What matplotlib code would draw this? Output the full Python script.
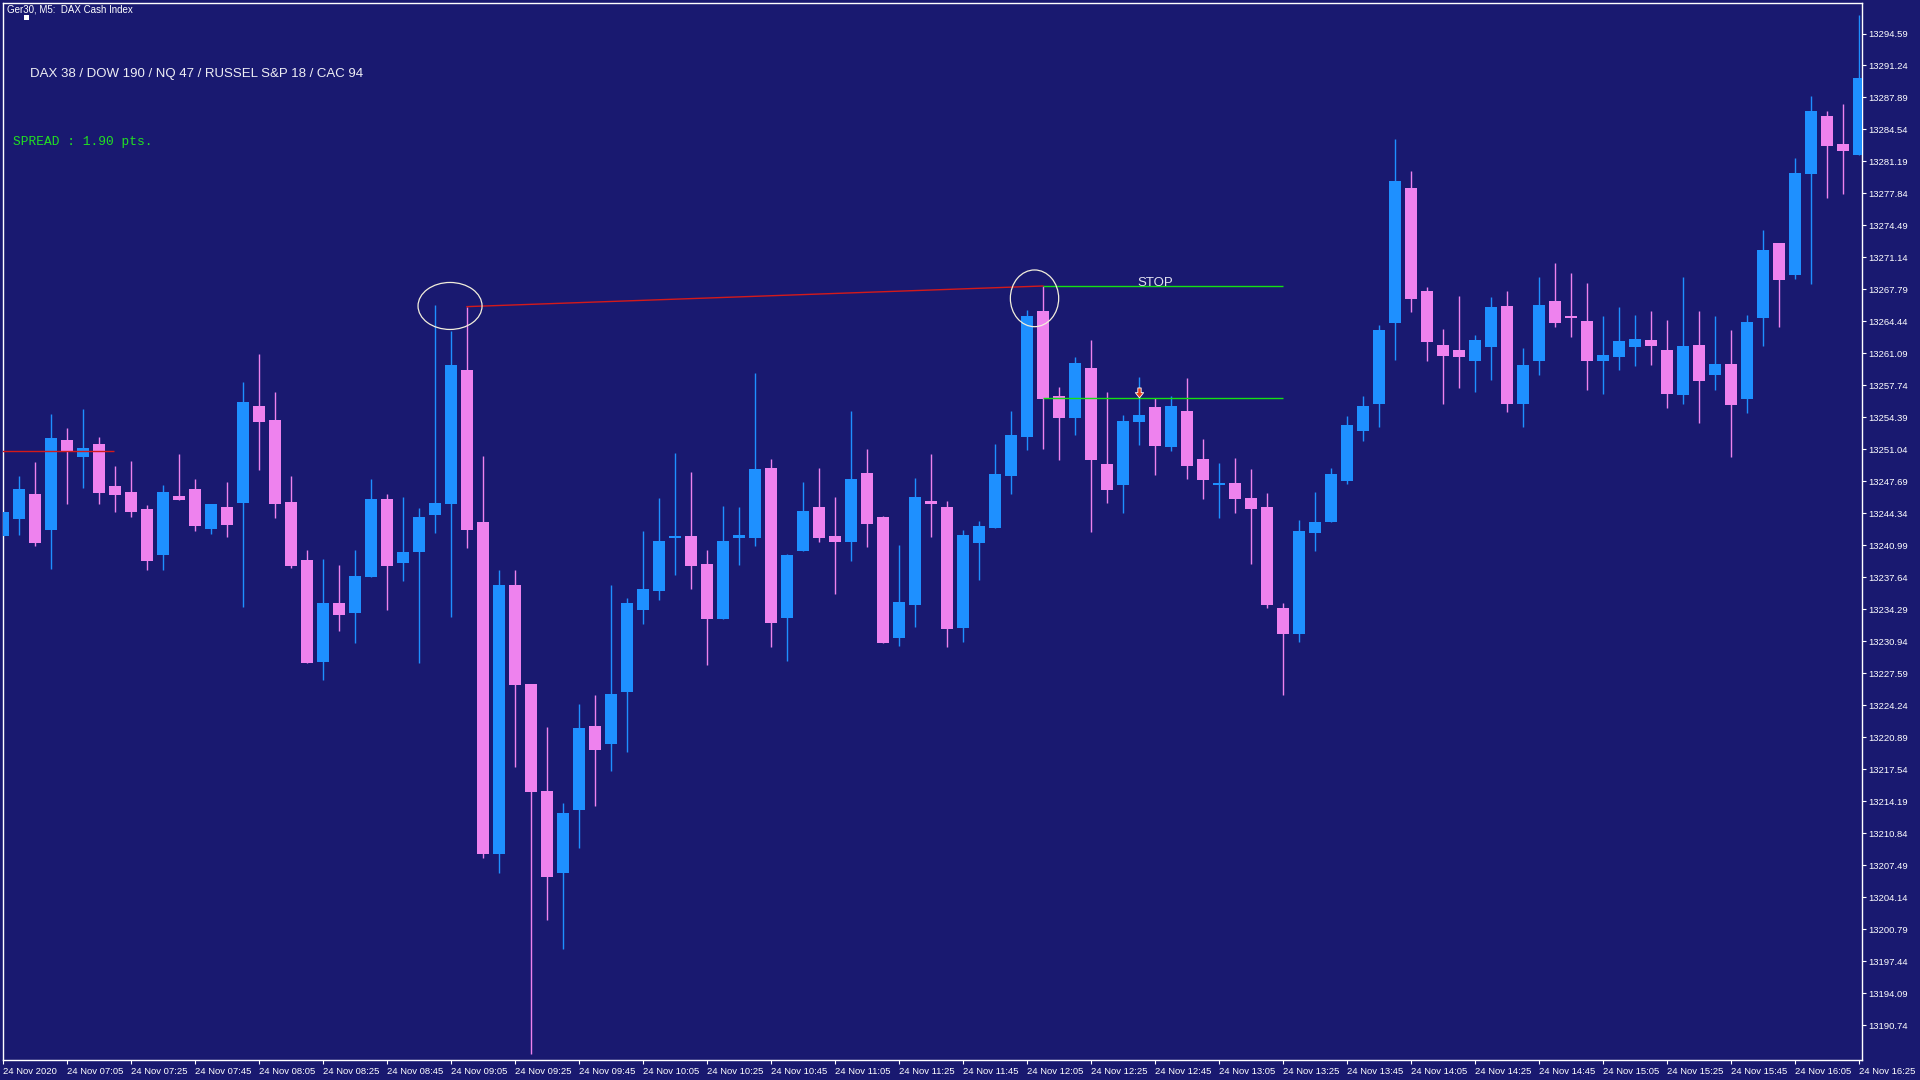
import matplotlib
matplotlib.use("Agg")
import matplotlib.pyplot as plt
from matplotlib.patches import Ellipse, Rectangle
from matplotlib.path import Path

# ---------------- data (5-minute candles, 24 Nov 2020 06:45 .. 16:25) ----------------
opens = [13241.98, 13243.76, 13246.37, 13242.60, 13252.03, 13250.25, 13251.61, 13247.21, 13246.58, 13244.80,
         13239.99, 13246.16, 13246.90, 13242.71, 13245.01, 13245.43, 13255.59, 13254.12, 13245.54, 13239.46,
         13228.78, 13235.00, 13233.96, 13237.71, 13245.89, 13239.17, 13240.31, 13244.22, 13245.37, 13259.38,
         13243.39, 13208.65, 13236.88, 13226.51, 13215.31, 13206.72, 13213.28, 13222.09, 13220.21, 13225.68,
         13234.27, 13236.25, 13241.77, 13241.98, 13239.04, 13233.29, 13241.77, 13241.77, 13249.10, 13233.39,
         13240.41, 13245.01, 13241.98, 13241.35, 13248.57, 13243.97, 13231.30, 13234.75, 13245.64, 13245.01,
         13232.34, 13241.24, 13242.81, 13248.25, 13252.34, 13265.53, 13256.63, 13254.33, 13259.56, 13249.51,
         13247.31, 13253.91, 13255.48, 13251.29, 13255.06, 13250.03, 13247.31, 13247.52, 13245.95, 13245.01,
         13234.43, 13231.71, 13242.28, 13243.47, 13247.73, 13252.97, 13255.80, 13264.28, 13278.41, 13267.63,
         13261.97, 13261.45, 13260.30, 13261.76, 13266.06, 13255.80, 13260.30, 13266.58, 13265.01, 13264.49,
         13260.30, 13260.72, 13261.76, 13262.50, 13261.45, 13256.74, 13261.98, 13258.84, 13259.99, 13256.32,
         13264.80, 13272.66, 13269.31, 13279.88, 13285.96, 13283.02, 13281.87]
highs = [13244.49, 13248.26, 13249.73, 13254.75, 13253.29, 13255.27, 13252.34, 13249.31, 13249.83, 13245.22,
         13247.32, 13250.56, 13247.95, 13245.33, 13247.63, 13258.10, 13261.03, 13257.05, 13248.26, 13240.51,
         13239.57, 13238.96, 13240.52, 13247.97, 13246.41, 13246.10, 13244.95, 13266.20, 13263.44, 13265.99,
         13250.37, 13238.44, 13238.44, 13226.51, 13221.98, 13214.01, 13224.43, 13225.37, 13236.88, 13235.52,
         13242.50, 13245.99, 13250.67, 13248.68, 13240.51, 13245.12, 13245.01, 13259.04, 13250.04, 13240.09,
         13247.63, 13249.10, 13246.06, 13255.07, 13251.09, 13244.07, 13241.03, 13248.05, 13250.56, 13245.64,
         13242.60, 13243.55, 13251.60, 13255.06, 13265.63, 13268.15, 13257.57, 13260.71, 13262.49, 13257.05,
         13254.64, 13258.62, 13256.42, 13256.63, 13258.51, 13252.13, 13249.61, 13250.14, 13248.99, 13246.47,
         13234.95, 13243.64, 13246.58, 13249.09, 13254.54, 13256.63, 13264.07, 13283.54, 13280.19, 13268.05,
         13263.65, 13267.10, 13263.02, 13267.00, 13267.63, 13261.66, 13269.09, 13270.56, 13269.51, 13268.47,
         13265.01, 13265.95, 13265.11, 13265.54, 13264.59, 13269.10, 13265.54, 13265.01, 13263.55, 13265.12,
         13274.02, 13272.66, 13281.56, 13288.05, 13286.48, 13287.21, 13296.56]
lows = [13241.98, 13242.08, 13240.93, 13238.52, 13245.33, 13247.00, 13245.33, 13244.49, 13243.97, 13238.42,
        13238.42, 13245.75, 13242.50, 13242.19, 13241.87, 13234.54, 13248.89, 13243.86, 13238.63, 13228.68,
        13226.90, 13232.03, 13230.78, 13237.71, 13234.27, 13237.29, 13228.70, 13242.29, 13233.44, 13240.73,
        13208.28, 13206.72, 13217.76, 13187.76, 13201.72, 13198.70, 13209.27, 13213.70, 13217.35, 13219.32,
        13232.76, 13235.31, 13237.89, 13236.43, 13228.47, 13233.29, 13238.94, 13240.93, 13230.35, 13228.89,
        13240.41, 13241.35, 13235.90, 13239.36, 13240.82, 13230.77, 13230.46, 13232.45, 13241.87, 13230.35,
        13230.88, 13237.37, 13242.81, 13246.37, 13250.97, 13251.08, 13249.93, 13252.55, 13242.39, 13245.42,
        13244.38, 13251.50, 13248.36, 13250.87, 13247.94, 13245.84, 13243.85, 13244.38, 13239.04, 13234.43,
        13225.32, 13230.87, 13240.40, 13243.47, 13247.42, 13251.92, 13253.39, 13260.40, 13265.43, 13260.30,
        13255.80, 13257.47, 13257.05, 13258.31, 13254.96, 13253.39, 13258.83, 13263.86, 13262.81, 13257.26,
        13256.84, 13259.36, 13259.77, 13259.88, 13255.38, 13255.80, 13253.81, 13257.27, 13250.25, 13254.86,
        13261.87, 13263.86, 13268.89, 13268.36, 13277.37, 13277.79, 13281.87]
closes = [13244.49, 13246.90, 13241.24, 13252.24, 13250.88, 13251.19, 13246.48, 13246.27, 13244.49, 13239.36,
          13246.58, 13245.75, 13243.02, 13245.33, 13243.13, 13256.01, 13253.91, 13245.33, 13238.84, 13228.68,
          13234.96, 13233.75, 13237.81, 13245.89, 13238.86, 13240.31, 13244.01, 13245.47, 13259.90, 13242.61,
          13208.65, 13236.88, 13226.36, 13215.16, 13206.25, 13212.92, 13221.88, 13219.59, 13225.47, 13235.00,
          13236.46, 13241.46, 13241.98, 13238.84, 13233.29, 13241.45, 13242.08, 13248.99, 13232.87, 13239.99,
          13244.59, 13241.77, 13241.35, 13247.95, 13243.23, 13230.77, 13235.07, 13246.06, 13245.33, 13232.24,
          13242.08, 13243.02, 13248.46, 13252.55, 13265.01, 13256.32, 13254.33, 13260.08, 13249.93, 13246.79,
          13254.01, 13254.64, 13251.39, 13255.58, 13249.30, 13247.83, 13247.52, 13245.84, 13244.80, 13234.74,
          13231.71, 13242.49, 13243.44, 13248.47, 13253.60, 13255.59, 13263.54, 13279.15, 13266.79, 13262.29,
          13260.82, 13260.72, 13262.50, 13265.95, 13255.80, 13259.88, 13266.16, 13264.28, 13264.80, 13260.30,
          13260.93, 13262.39, 13262.60, 13261.87, 13256.85, 13261.87, 13258.21, 13259.99, 13255.69, 13264.39,
          13271.92, 13268.78, 13279.99, 13286.48, 13282.81, 13282.29, 13289.94]

price_ticks = [13190.74, 13194.09, 13197.44, 13200.79, 13204.14, 13207.49, 13210.84, 13214.19,
               13217.54, 13220.89, 13224.24, 13227.59, 13230.94, 13234.29, 13237.64, 13240.99,
               13244.34, 13247.69, 13251.04, 13254.39, 13257.74, 13261.09, 13264.44, 13267.79,
               13271.14, 13274.49, 13277.84, 13281.19, 13284.54, 13287.89, 13291.24, 13294.59]
time_tick_idx = [0, 4, 8, 12, 16, 20, 24, 28, 32, 36, 40, 44, 48, 52, 56, 60, 64, 68, 72, 76,
                 80, 84, 88, 92, 96, 100, 104, 108, 112, 116]
time_labels = ["24 Nov 2020", "24 Nov 07:05", "24 Nov 07:25", "24 Nov 07:45", "24 Nov 08:05",
               "24 Nov 08:25", "24 Nov 08:45", "24 Nov 09:05", "24 Nov 09:25", "24 Nov 09:45",
               "24 Nov 10:05", "24 Nov 10:25", "24 Nov 10:45", "24 Nov 11:05", "24 Nov 11:25",
               "24 Nov 11:45", "24 Nov 12:05", "24 Nov 12:25", "24 Nov 12:45", "24 Nov 13:05",
               "24 Nov 13:25", "24 Nov 13:45", "24 Nov 14:05", "24 Nov 14:25", "24 Nov 14:45",
               "24 Nov 15:05", "24 Nov 15:25", "24 Nov 15:45", "24 Nov 16:05", "24 Nov 16:25"]

# annotation objects
left_red_level = 13250.84
trend_idx = [29, 65]
trend_price = [13265.99, 13268.15]
stop_level = 13268.15
entry_level = 13256.45
level_idx = [65, 80]
arrow_idx, arrow_price = 71, 13256.98
ellipses = [((27.94, 13266.06), 4.0, 4.92), ((64.47, 13266.86), 3.02, 5.94)]

# ---------------- style ----------------
BG = "#191970"
UP = "#1E90FF"
DN = "#EE82EE"
FONT = ["Liberation Sans", "DejaVu Sans"]

W, H = 1920, 1080
fig = plt.figure(figsize=(W / 100, H / 100), dpi=100, facecolor=BG)
px_l, px_r, px_t, px_b = 2.5, 1862.0, 2.5, 1059.5
ax = fig.add_axes([px_l / W, 1 - px_b / H, (px_r - px_l) / W, (px_b - px_t) / H])
ax.set_facecolor(BG)

n = len(opens)
xs = list(range(n))
cols = [UP if c >= o else DN for o, c in zip(opens, closes)]
bottoms = [min(o, c) for o, c in zip(opens, closes)]
heights = [max(abs(c - o), 0.15) for o, c in zip(opens, closes)]

ax.vlines(xs, lows, highs, colors=cols, linewidth=1.0, zorder=2)
ax.bar(xs, heights, bottom=bottoms, width=0.75, color=cols, linewidth=0, zorder=3)

# lines & objects
ax.hlines(left_red_level, -1, 6.94, colors="#d41a1a", linewidth=1.0, zorder=4)
ax.plot(trend_idx, trend_price, color="#d41a1a", linewidth=1.0, zorder=4)
ax.hlines([stop_level, entry_level], level_idx[0], level_idx[1], colors="#14e014", linewidth=1.0, zorder=4)
ax.text(72.0, stop_level - 0.05, "STOP", ha="center", va="baseline", fontsize=9.5,
        color="#e4e4f0", family=FONT, zorder=5)
for (cx, cy), ew, eh in ellipses:
    ax.add_patch(Ellipse((cx, cy), ew, eh, fill=False, edgecolor="#f2eedc", linewidth=0.9, zorder=5))

arrow = Path([(-0.3, 1.0), (0.3, 1.0), (0.3, 0.15), (0.75, 0.15), (0.0, -0.8),
              (-0.75, 0.15), (-0.3, 0.15), (-0.3, 1.0)],
             [Path.MOVETO] + [Path.LINETO] * 6 + [Path.CLOSEPOLY])
ax.plot([arrow_idx], [arrow_price], marker=arrow, markersize=8, color="#e2401a",
        markeredgecolor="white", markeredgewidth=0.6, zorder=6)

# axes
ax.set_xlim((px_l - 3) / 16, (px_r - 3) / 16)
y_top = 13294.59 + (33.5 - px_t) / 9.55
y_bot = 13294.59 - (px_b - 33.5) / 9.55
ax.set_ylim(y_bot, y_top)

for s in ax.spines.values():
    s.set_color("white")
    s.set_linewidth(1.0)

ax.yaxis.tick_right()
ax.set_yticks(price_ticks)
ax.set_yticklabels([f"{v:.2f}" for v in price_ticks])
ax.tick_params(axis="y", direction="out", length=3, width=0.8, colors="white",
               labelsize=6.8, pad=1.5)
ax.set_xticks(time_tick_idx)
ax.set_xticklabels(time_labels)
ax.tick_params(axis="x", direction="out", length=3, width=0.8, colors="white",
               labelsize=6.8, pad=2.5)
for lbl in ax.get_xticklabels():
    lbl.set_ha("left")
    lbl.set_family(FONT)
for lbl in ax.get_yticklabels():
    lbl.set_family(FONT)

# header texts
fig.text(7 / W, 1 - 4.5 / H, "Ger30, M5:  DAX Cash Index", ha="left", va="top",
         fontsize=7, color="white", family=FONT)
fig.patches.append(Rectangle((24 / W, 1 - 19.5 / H), 5 / W, 4.5 / H, transform=fig.transFigure,
                             facecolor="white", edgecolor="none"))
fig.text(30 / W, 1 - 77.5 / H, "DAX 38 / DOW 190 / NQ 47 / RUSSEL S&P 18 / CAC 94",
         ha="left", va="baseline", fontsize=9.5, color="#eeeef4", family=FONT)
fig.text(13 / W, 1 - 145 / H, "SPREAD : 1.90 pts.", ha="left", va="baseline",
         fontsize=9.3, color="#22e022", family=["Liberation Mono", "DejaVu Sans Mono"])

fig.savefig("out.png", dpi=100, facecolor=BG)
